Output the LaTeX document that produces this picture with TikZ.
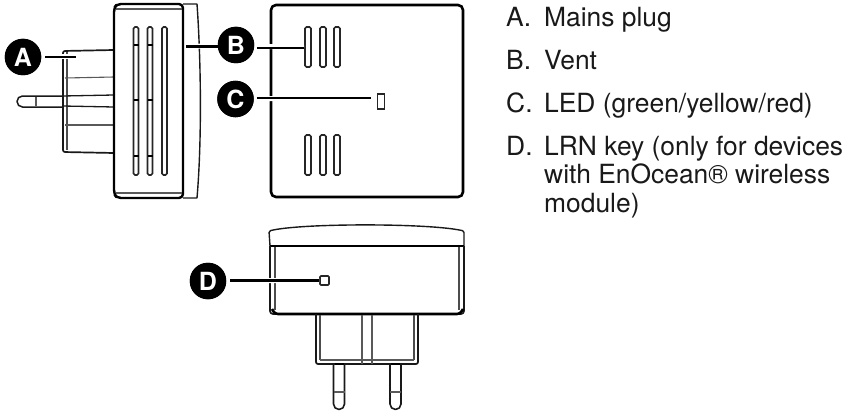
\documentclass[tikz,border=0pt]{standalone}
\usepackage{fontspec}
\setmainfont{TeX Gyre Heros}
\tikzset{
  dev/.style={draw=black!90,line width=1.7pt,line join=round},
  thick2/.style={draw=black,line width=2.4pt,line join=round},
  fine/.style={draw=black!65,line width=1.1pt},
  badge/.style={circle,fill=black,text=white,minimum size=36.5pt,inner sep=0pt,font=\fontsize{25}{25}\selectfont\bfseries},
  leader/.style={draw=black,line width=2.1pt},
  halo/.style={draw=white,line width=5pt},
  item/.style={anchor=base west,inner sep=0pt,font=\fontsize{26.4}{28}\selectfont,text=black!90},
  slot/.style={draw=black!85,line width=1.6pt,fill=white,rounded corners=1.6pt},
}
\begin{document}
\begin{tikzpicture}[x=1pt,y=-1pt]
\useasboundingbox (0,0) rectangle (854,412);
% left device: plug
\draw[dev,rounded corners=2pt] (114,50) -- (63,51) -- (63,152) -- (114,153);
\draw[fine,black!70] (67,52) -- (67,150);
\draw[fine] (65,78) -- (114,77);
\draw[fine] (65,125) -- (114,125);
\draw[dev,line width=1.5pt] (63,96) -- (22.5,96) arc[start angle=270,end angle=90,radius=5.5] -- (63,107);
\draw[dev,line width=1.3pt] (63,96) -- (114,95);
\draw[dev,line width=1.3pt] (63,106) -- (114,107);
\draw[fine] (36,97) -- (36,106);
% left device: cap
\draw[dev,line width=1.4pt] (183,4) -- (197,4) .. controls (201,60) and (202,140) .. (197,198) -- (183,198);
% left device: body
\draw[thick2,rounded corners=4pt] (183,4) -- (117,4) -- (114,8) -- (114,194) -- (117,198) -- (183,198) -- cycle;
\draw[fine] (116,9) -- (182,9);
\draw[fine] (116,193) -- (182,193);
\foreach \x in {133.5,147.5,162} \draw[slot] (\x,27) rectangle (\x+5,175);
\foreach \x in {133.5,147.5} \foreach \y in {45,100,156} \draw[fine,black] (\x,\y) -- (\x+5,\y);
% right device
\draw[thick2,line width=2.6pt,rounded corners=5pt] (271,5) rectangle (463,197);
\foreach \x in {305,320,334} {
  \draw[slot] (\x,27) rectangle (\x+6,67);
  \draw[slot] (\x,135) rectangle (\x+6,175);
}
\node[draw=black!85,line width=1.6pt,fill=white,minimum width=7pt,minimum height=14.5pt,inner sep=0pt] (led) at (381,101.5) {};
% bottom device
\draw[dev,line width=1.4pt,rounded corners=1.5pt] (270,246) -- (269,231) .. controls (300,223) and (430,223) .. (464,231) -- (464,246);
\draw[thick2,line width=2.6pt] (270,246) -- (464,246);
\draw[dev,rounded corners=3pt] (270,246) -- (270,314) -- (464,314) -- (464,246);
\draw[thick2,line width=2.6pt,rounded corners=3pt] (272,309) -- (275,314) -- (460,314) -- (463,309);
\draw[fine,black!70] (275,247) -- (275,310);
\draw[fine,black!70] (459,247) -- (459,310);
\draw[dev,rounded corners=2pt] (316,314) -- (316,364) -- (418,364) -- (418,314);
\draw[fine,black!70] (320,315) -- (320,360);
\draw[fine,black!70] (414,315) -- (414,360);
\draw[fine] (320,360) -- (414,360);
\draw[fine] (362,315) -- (362,364);
\draw[fine] (372,315) -- (372,364);
\foreach \x in {333.5,390} {
  \draw[dev,line width=1.6pt] (\x,364) -- (\x,404) arc[start angle=180,end angle=0,radius=5.5] -- (\x+11,364);
  \draw[fine] (\x,392) -- (\x+11,392);
  \draw[fine,black] (\x+1,364) -- (\x+10,364);
}
\node[draw=black!85,line width=1.6pt,fill=white,minimum width=9pt,minimum height=9pt,inner sep=0pt,rounded corners=1pt] (lrn) at (324.5,280.5) {};
% badges
\node[badge] (a) at (23,57) {A};
\node[badge] (b) at (236,45) {B};
\node[badge] (c) at (235.5,99) {C};
\node[badge] (d) at (208,281) {D};
\coordinate (atip) at (76,57);
\coordinate (bl) at (186,46.5);
\coordinate (br) at (304,48);
\coordinate (ctip) at (371,98);
% leaders
\draw[halo] (48,57) -- (atip);
\draw[halo] (bl) -- (b);
\draw[halo] (b) -- (br);
\draw[halo] (c) -- (ctip);
\draw[halo] (d) -- (lrn);
\node[badge] at (a) {A};
\node[badge] at (b) {B};
\node[badge] at (c) {C};
\node[badge] at (d) {D};
\draw[leader] (a.east |- atip) ++(4,0) -- (atip);
\draw[leader] (bl) -- (b.west |- bl);
\draw[leader] (b.east |- br) ++(3,0) -- (br);
\draw[leader] (c.east |- ctip) ++(3,0) -- (ctip);
\draw[leader] (d.east |- lrn.west) ++(4,0) -- (lrn.west);
% text
\node[item] (t1) at (506,27) {A.};
\node[item] (t1b) at (544,27) {Mains plug};
\node[item] (t2) at (506,70) {B.};
\node[item] (t2b) at (544,70) {Vent};
\node[item] (t3) at (506,112) {C.};
\node[item] (t3b) at (544,112) {LED (green/yellow/red)};
\node[item] (t4) at (506,155) {D.};
\node[item] (t4b) at (544,155) {LRN key (only for devices};
\node[item] (t5) at (544,183) {with EnOcean® wireless};
\node[item] (t6) at (544,212) {module)};
\end{tikzpicture}
\end{document}
